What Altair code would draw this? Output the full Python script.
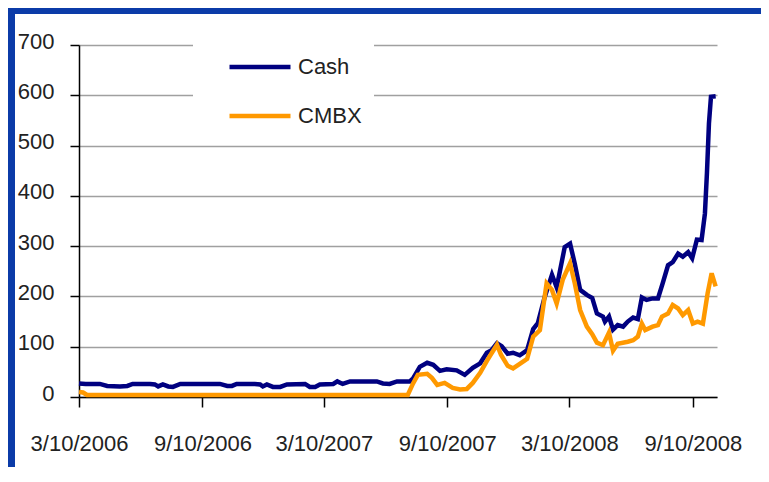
import altair as alt
import pandas as pd

FONT = "Liberation Sans"
FRAME = "#0b3ba8"

series_names = ["Cash", "CMBX"]
series_colors = ["#000080", "#FF9900"]
tick_dates = ["2006-03-10", "2006-09-10", "2007-03-10", "2007-09-10", "2008-03-10", "2008-09-10"]
y_ticks = [0, 100, 200, 300, 400, 500, 600, 700]
x_domain = ["2006-03-10", "2008-10-16"]

cash_dates = [
    "2006-03-10", "2006-03-20", "2006-04-10", "2006-04-21", "2006-05-10", "2006-05-21", "2006-05-29", "2006-06-24",
    "2006-07-01", "2006-07-06", "2006-07-13", "2006-07-21", "2006-07-28", "2006-08-08", "2006-09-06", "2006-10-06",
    "2006-10-17", "2006-10-24", "2006-10-31", "2006-11-27", "2006-12-05", "2006-12-09", "2006-12-15", "2006-12-24",
    "2007-01-04", "2007-01-14", "2007-02-10", "2007-02-17", "2007-02-25", "2007-03-04", "2007-03-24", "2007-03-30",
    "2007-04-07", "2007-04-18", "2007-05-28", "2007-06-06", "2007-06-16", "2007-06-27", "2007-07-16", "2007-07-21",
    "2007-07-31", "2007-08-11", "2007-08-20", "2007-08-30", "2007-09-09", "2007-09-24", "2007-10-06", "2007-10-18",
    "2007-10-29", "2007-11-08", "2007-11-15", "2007-11-23", "2007-11-30", "2007-12-09", "2007-12-17", "2007-12-27",
    "2008-01-07", "2008-01-16", "2008-01-23", "2008-02-02", "2008-02-13", "2008-02-20", "2008-03-03", "2008-03-11",
    "2008-03-18", "2008-03-26", "2008-04-05", "2008-04-13", "2008-04-20", "2008-04-29", "2008-05-02", "2008-05-08",
    "2008-05-14", "2008-05-21", "2008-05-29", "2008-06-05", "2008-06-13", "2008-06-20", "2008-06-26", "2008-07-03",
    "2008-07-12", "2008-07-20", "2008-07-27", "2008-08-04", "2008-08-11", "2008-08-19", "2008-08-26", "2008-09-03",
    "2008-09-09", "2008-09-16", "2008-09-23", "2008-09-28", "2008-10-01", "2008-10-04", "2008-10-07", "2008-10-14",
]
cash_values = [
    27, 26, 26, 22, 21, 22, 26, 26,
    25, 21, 25, 21, 20, 26, 26, 26,
    22, 22, 26, 26, 25, 21, 25, 20,
    20, 25, 26, 20, 20, 25, 26, 31,
    26, 31, 31, 27, 26, 31, 31, 37,
    60, 68, 64, 52, 55, 53, 44, 58,
    67, 88, 93, 107, 101, 86, 88, 83,
    93, 135, 147, 198, 243, 218, 298, 305,
    265, 213, 203, 197, 166, 160, 150, 160,
    134, 143, 140, 150, 158, 155, 198, 193,
    196, 196, 226, 262, 268, 285, 279, 288,
    276, 313, 312, 365, 445, 544, 597, 598,
]

cmbx_dates = [
    "2006-03-10", "2006-03-16", "2006-03-22", "2006-09-01", "2007-03-01", "2007-07-13", "2007-07-21", "2007-07-28",
    "2007-08-11", "2007-08-18", "2007-08-26", "2007-09-06", "2007-09-18", "2007-09-29", "2007-10-09", "2007-10-18",
    "2007-10-29", "2007-11-08", "2007-11-15", "2007-11-23", "2007-11-29", "2007-12-09", "2007-12-17", "2007-12-27",
    "2008-01-07", "2008-01-16", "2008-01-26", "2008-02-05", "2008-02-13", "2008-02-20", "2008-02-29", "2008-03-11",
    "2008-03-18", "2008-03-26", "2008-04-05", "2008-04-13", "2008-04-20", "2008-04-29", "2008-05-08", "2008-05-14",
    "2008-05-21", "2008-06-05", "2008-06-13", "2008-06-20", "2008-06-26", "2008-07-01", "2008-07-12", "2008-07-20",
    "2008-07-26", "2008-08-04", "2008-08-11", "2008-08-19", "2008-08-26", "2008-09-03", "2008-09-10", "2008-09-17",
    "2008-09-25", "2008-10-02", "2008-10-08", "2008-10-14",
]
cmbx_values = [
    10, 9, 4, 4, 4, 4, 27, 44,
    46, 38, 24, 28, 18, 15, 16, 28,
    48, 72, 87, 104, 84, 62, 57, 66,
    76, 120, 133, 226, 213, 186, 233, 266,
    226, 173, 140, 125, 108, 103, 128, 92,
    106, 110, 113, 120, 146, 133, 140, 143,
    160, 166, 183, 176, 163, 173, 146, 150,
    146, 206, 246, 220,
]


def dt(s):
    y, m, d = (int(p) for p in s.split("-"))
    return alt.DateTime(year=y, month=m, date=d)


df = pd.concat([
    pd.DataFrame({"date": [d + "T00:00:00" for d in cash_dates], "value": cash_values, "series": series_names[0]}),
    pd.DataFrame({"date": [d + "T00:00:00" for d in cmbx_dates], "value": cmbx_values, "series": series_names[1]}),
], ignore_index=True)

x_enc = alt.X(
    "date:T",
    scale=alt.Scale(domain=[dt(x_domain[0]), dt(x_domain[1])]),
    axis=alt.Axis(
        values=[dt(s) for s in tick_dates], format="%-m/%-d/%Y", grid=False,
        domainColor="black", domainWidth=1.5, tickColor="black", tickSize=10, tickWidth=1.5,
        labelFont=FONT, labelFontSize=22, labelColor="#222222", labelPadding=26,
        labelFlush=False, labelOverlap=False, title=None,
    ),
)
y_enc = alt.Y(
    "value:Q",
    scale=alt.Scale(domain=[0, 700], nice=False),
    axis=alt.Axis(
        values=y_ticks, grid=True, gridColor="#a0a0a0", gridWidth=1.5,
        domainColor="black", domainWidth=1.5, tickColor="black", tickSize=9, tickWidth=1.5,
        labelFont=FONT, labelFontSize=22, labelColor="#222222", labelPadding=16, labelOffset=-4,
        title=None,
    ),
)
color_enc = alt.Color(
    "series:N",
    scale=alt.Scale(domain=series_names, range=series_colors),
    legend=alt.Legend(
        orient="none", legendX=114, legendY=-3, title=None, fillColor="white", padding=12,
        symbolType="stroke", symbolSize=3721, symbolStrokeWidth=4.5, symbolOffset=22,
        clipHeight=26, rowPadding=23, labelFont=FONT, labelFontSize=22, labelColor="#222222",
        labelOffset=5,
    ),
)

base = alt.Chart(df)
cash_line = base.transform_filter(alt.datum.series == "Cash").mark_line(strokeWidth=4.5).encode(
    x=x_enc, y=y_enc, color=color_enc
)
cmbx_line = base.transform_filter(alt.datum.series == "CMBX").mark_line(strokeWidth=4.5).encode(
    x=x_enc, y=y_enc, color=color_enc
)

frame_df = pd.DataFrame({"k": [0]})
left_bar = alt.Chart(frame_df).mark_rect(color=FRAME).encode(
    x=alt.value(-71), x2=alt.value(-64), y=alt.value(-37), y2=alt.value(440)
)
top_bar = alt.Chart(frame_df).mark_rect(color=FRAME).encode(
    x=alt.value(-71), x2=alt.value(700), y=alt.value(-37), y2=alt.value(-31)
)

chart = alt.layer(left_bar, top_bar, cash_line, cmbx_line).properties(
    width=638, height=352,
    padding={"left": 71, "top": 37, "right": 44, "bottom": 70},
    autosize=alt.AutoSizeParams(type="none"),
    background="white",
).configure_view(stroke="transparent")

chart.save("out.html", embed_options={"renderer": "svg", "actions": False})
